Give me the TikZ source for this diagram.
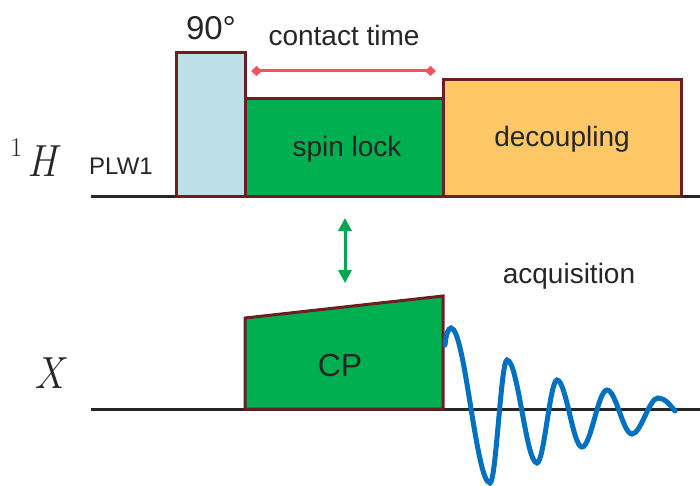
\documentclass[tikz,border=0pt]{standalone}
\usepackage{fontspec}
\usepackage{graphicx}
\setmainfont{Liberation Sans}
\newfontfamily\lmroman{Latin Modern Roman}
\usetikzlibrary{arrows.meta}
\definecolor{pblue}{HTML}{BDDFE8}
\definecolor{pgreen}{HTML}{00B050}
\definecolor{porange}{HTML}{FFC866}
\definecolor{pborder}{HTML}{6B1F22}
\definecolor{pred}{HTML}{F2535E}
\definecolor{agreen}{HTML}{00A651}
\definecolor{fidblue}{HTML}{0070C0}
\definecolor{txt}{HTML}{262626}
\tikzset{
  pulse/.style={draw=pborder, line width=3pt, inner sep=0pt, outer sep=0pt, anchor=south west, text=txt},
  baseline/.style={draw=black!85, line width=3pt},
  lbl/.style={text=txt, inner sep=0pt, anchor=base},
  nucleus/.style={text=txt, inner sep=0pt, font=\lmroman\itshape\fontsize{45}{47}\selectfont},
}
\begin{document}
\begin{tikzpicture}[x=1pt,y=-1pt]
\useasboundingbox (0,0) rectangle (700,486);
% baselines
\coordinate (hl) at (91,197);
\coordinate (hr) at (700,197);
\coordinate (xl) at (91,409);
\coordinate (xr) at (700,409);
\draw[baseline] (hl) -- (hr);
\draw[baseline] (xl) -- (xr);
% 1H pulses
\node[pulse, fill=pblue, minimum width=69pt, minimum height=144pt] (p90) at (176,197) {};
\node[pulse, fill=pgreen, minimum width=198pt, minimum height=98pt] (spin) at (245,197) {};
\node[lbl, font=\fontsize{28}{30}\selectfont] (spint) at (347,157) {spin lock};
\node[pulse, fill=porange, minimum width=238pt, minimum height=117pt] (dec) at (443,197) {};
\node[lbl, font=\fontsize{28}{30}\selectfont] (dect) at (562,147) {decoupling};
% CP ramp
\draw[draw=pborder, line width=3pt, fill=pgreen, line join=miter] (245,409) -- (245,318) -- (443,296) -- (443,409) -- cycle;
\node[lbl, font=\fontsize{32}{34}\selectfont] (cpt) at (340,376) {CP};
% FID
\draw[fidblue, line width=5pt, line cap=round]
 (445,345) .. controls (446,335) and (448,328) .. (451,328)
 .. controls (465,328) and (476,483) .. (490,483)
 .. controls (496,483) and (501,360) .. (507,360)
 .. controls (518,360) and (526,463) .. (537,463)
 .. controls (544,463) and (550,380) .. (557,380)
 .. controls (566,380) and (573,447) .. (582,447)
 .. controls (591,447) and (598,390) .. (607,390)
 .. controls (616,390) and (623,434) .. (632,434)
 .. controls (641,434) and (649,398) .. (658,398)
 .. controls (665,398) and (670,405) .. (675,411);
% labels
\node[lbl, font=\fontsize{33}{35}\selectfont] (n90) at (211,40) {90°};
\node[lbl, font=\fontsize{28}{30}\selectfont] (ct) at (344,46) {contact time};
\node[lbl, font=\fontsize{28}{30}\selectfont] (acq) at (569,283) {acquisition};
\node[lbl, anchor=base west, font=\fontsize{24}{26}\selectfont] (plw) at (89,175) {PLW1};
\node[nucleus, anchor=base west] (hlab) at (10,177) {{\upshape\fontsize{27}{27}\selectfont\raisebox{20pt}{1}}\kern5pt\scalebox{0.9}[1]{H}};
\node[nucleus, anchor=base] (xlab) at (49,388) {\scalebox{0.9}[1]{X}};
% contact time arrow
\coordinate (ca) at (251,71);
\coordinate (cb) at (436,71);
\draw[pred, line width=3pt, {Diamond[length=11pt,width=10pt]}-{Diamond[length=11pt,width=10pt]}] (ca) -- (cb);
% green double arrow
\coordinate (ga) at (345,218);
\coordinate (gb) at (345,283);
\draw[agreen, line width=3pt, {Triangle[length=13pt,width=13pt]}-{Triangle[length=13pt,width=13pt]}] (ga) -- (gb);
\end{tikzpicture}
\end{document}
